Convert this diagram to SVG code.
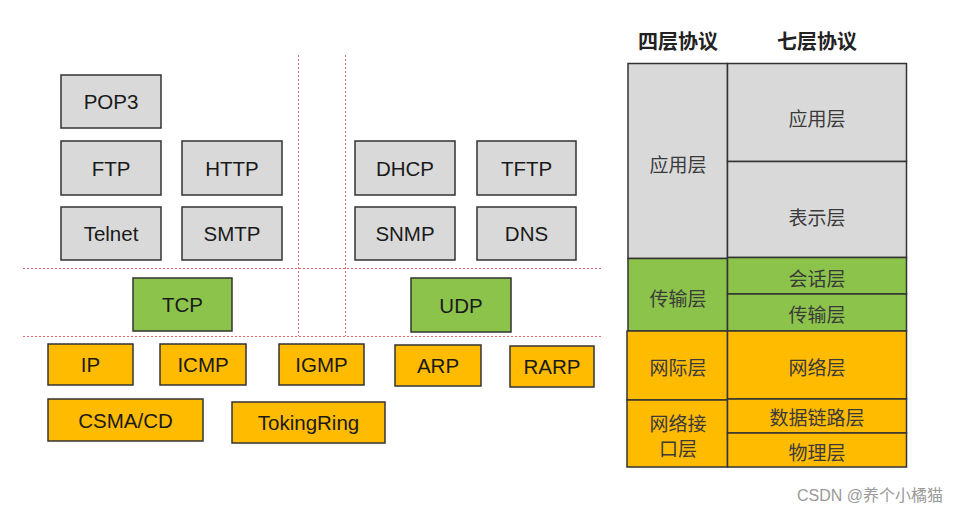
<svg xmlns="http://www.w3.org/2000/svg" width="972" height="514" viewBox="0 0 972 514">
<style>
.g{fill:#d9d9d9;stroke:#333;stroke-width:1.5}
.gr{fill:#8cc34b;stroke:#333;stroke-width:1.5}
.o{fill:#ffbb00;stroke:#333;stroke-width:1.5}
.t{font-family:"Liberation Sans",Arial,sans-serif;font-size:20.5px;fill:#1a1a1a;text-anchor:middle;dominant-baseline:central}
.c{font-family:"Noto Sans CJK SC",sans-serif;font-size:19px;fill:#3a3a3a;text-anchor:middle;dominant-baseline:central}
.h{font-family:"Noto Sans CJK SC",sans-serif;font-size:20px;font-weight:bold;fill:#222;text-anchor:middle;dominant-baseline:central}
.d{stroke:#e06a6a;stroke-width:1;stroke-dasharray:2 2;fill:none}
</style>
<rect width="972" height="514" fill="#fff"/>
<g id="connectors">
<line class="d" x1="23" y1="268.5" x2="603" y2="268.5"/>
<line class="d" x1="23" y1="336.5" x2="603" y2="336.5"/>
<line class="d" x1="298.5" y1="55" x2="298.5" y2="336"/>
<line class="d" x1="345.5" y1="55" x2="345.5" y2="336"/>
</g>
<g id="POP3"><rect class="g" x="61" y="75" width="100" height="53"/><text class="t" x="111" y="101.5">POP3</text></g>
<g id="FTP"><rect class="g" x="61" y="141" width="100" height="54"/><text class="t" x="111" y="168">FTP</text></g>
<g id="HTTP"><rect class="g" x="182" y="141" width="100" height="54"/><text class="t" x="232" y="168">HTTP</text></g>
<g id="Telnet"><rect class="g" x="61" y="207" width="100" height="53"/><text class="t" x="111" y="233.5">Telnet</text></g>
<g id="SMTP"><rect class="g" x="182" y="207" width="100" height="53"/><text class="t" x="232" y="233.5">SMTP</text></g>
<g id="DHCP"><rect class="g" x="355" y="141" width="100" height="54"/><text class="t" x="405" y="168">DHCP</text></g>
<g id="TFTP"><rect class="g" x="477" y="141" width="99" height="54"/><text class="t" x="526.5" y="168">TFTP</text></g>
<g id="SNMP"><rect class="g" x="355" y="207" width="100" height="53"/><text class="t" x="405" y="233.5">SNMP</text></g>
<g id="DNS"><rect class="g" x="477" y="207" width="99" height="53"/><text class="t" x="526.5" y="233.5">DNS</text></g>
<g id="TCP"><rect class="gr" x="133" y="278" width="99" height="53"/><text class="t" x="182.5" y="304.5">TCP</text></g>
<g id="UDP"><rect class="gr" x="411" y="278" width="100" height="54"/><text class="t" x="461" y="305">UDP</text></g>
<g id="IP"><rect class="o" x="48" y="344" width="85" height="41"/><text class="t" x="90.5" y="364.5">IP</text></g>
<g id="ICMP"><rect class="o" x="160" y="344" width="86" height="41"/><text class="t" x="203" y="364.5">ICMP</text></g>
<g id="IGMP"><rect class="o" x="279" y="344" width="85" height="41"/><text class="t" x="321.5" y="364.5">IGMP</text></g>
<g id="ARP"><rect class="o" x="395" y="345" width="86" height="41"/><text class="t" x="438" y="365.5">ARP</text></g>
<g id="RARP"><rect class="o" x="510" y="346" width="84" height="41"/><text class="t" x="552" y="366.5">RARP</text></g>
<g id="CSMA_CD"><rect class="o" x="48" y="399" width="155" height="42"/><text class="t" x="125.5" y="420">CSMA/CD</text></g>
<g id="TokingRing"><rect class="o" x="232" y="402" width="153" height="41"/><text class="t" x="308.5" y="422.5">TokingRing</text></g>
<g id="table">
<text class="h" x="678" y="40">四层协议</text>
<text class="h" x="817" y="40">七层协议</text>
<rect class="g" x="628" y="63.5" width="99.5" height="195"/>
<rect class="g" x="727.5" y="63.5" width="179" height="98"/>
<rect class="g" x="727.5" y="161.5" width="179" height="96"/>
<rect class="gr" x="628" y="258.5" width="99.5" height="72.5"/>
<rect class="gr" x="727.5" y="257.5" width="179" height="36.5"/>
<rect class="gr" x="727.5" y="294" width="179" height="37"/>
<rect class="o" x="627" y="331" width="100.5" height="69"/>
<rect class="o" x="627" y="400" width="100.5" height="67"/>
<rect class="o" x="727.5" y="331" width="179" height="68"/>
<rect class="o" x="727.5" y="399" width="179" height="34"/>
<rect class="o" x="727.5" y="433" width="179" height="34"/>
<text class="c" x="678" y="163">应用层</text>
<text class="c" x="817" y="117">应用层</text>
<text class="c" x="817" y="216">表示层</text>
<text class="c" x="678" y="297">传输层</text>
<text class="c" x="817" y="277">会话层</text>
<text class="c" x="817" y="313">传输层</text>
<text class="c" x="678" y="366">网际层</text>
<text class="c" x="817" y="366">网络层</text>
<text class="c" x="678" y="422">网络接</text>
<text class="c" x="678" y="447">口层</text>
<text class="c" x="817" y="416">数据链路层</text>
<text class="c" x="817" y="451">物理层</text>
</g>
<text x="870" y="495" font-family="'Liberation Sans','Noto Sans CJK SC',sans-serif" font-size="16" fill="#999" text-anchor="middle" dominant-baseline="central">CSDN @养个小橘猫</text>
</svg>
